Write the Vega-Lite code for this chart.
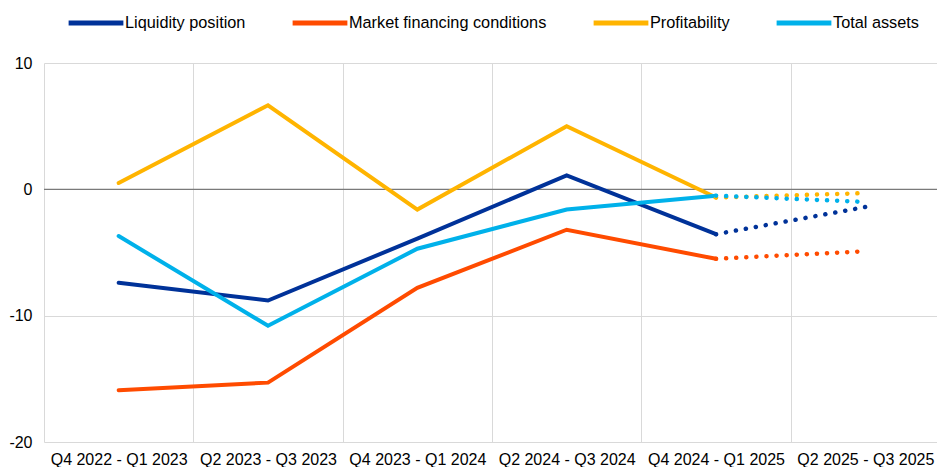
{
  "$schema": "https://vega.github.io/schema/vega-lite/v6.json",
  "autosize": {"type": "none"},
  "width": 896,
  "height": 379,
  "padding": {"left": 44, "top": 63, "right": -3, "bottom": 25},
  "background": "white",
  "config": {
    "view": {"stroke": null},
    "font": "Liberation Sans"
  },
  "data": {
    "values": [
      {"period": "Q4 2022 - Q1 2023", "series": "Liquidity position", "value": -7.4, "part": "actual"},
      {"period": "Q2 2023 - Q3 2023", "series": "Liquidity position", "value": -8.8, "part": "actual"},
      {"period": "Q4 2023 - Q1 2024", "series": "Liquidity position", "value": -3.9, "part": "actual"},
      {"period": "Q2 2024 - Q3 2024", "series": "Liquidity position", "value": 1.1, "part": "actual"},
      {"period": "Q4 2024 - Q1 2025", "series": "Liquidity position", "value": -3.55, "part": "actual"},
      {"period": "Q4 2024 - Q1 2025", "series": "Liquidity position", "value": -3.55, "part": "expected"},
      {"period": "Q2 2025 - Q3 2025", "series": "Liquidity position", "value": -1.4, "part": "expected"},

      {"period": "Q4 2022 - Q1 2023", "series": "Market financing conditions", "value": -15.9, "part": "actual"},
      {"period": "Q2 2023 - Q3 2023", "series": "Market financing conditions", "value": -15.3, "part": "actual"},
      {"period": "Q4 2023 - Q1 2024", "series": "Market financing conditions", "value": -7.8, "part": "actual"},
      {"period": "Q2 2024 - Q3 2024", "series": "Market financing conditions", "value": -3.2, "part": "actual"},
      {"period": "Q4 2024 - Q1 2025", "series": "Market financing conditions", "value": -5.5, "part": "actual"},
      {"period": "Q4 2024 - Q1 2025", "series": "Market financing conditions", "value": -5.5, "part": "expected"},
      {"period": "Q2 2025 - Q3 2025", "series": "Market financing conditions", "value": -4.9, "part": "expected"},

      {"period": "Q4 2022 - Q1 2023", "series": "Profitability", "value": 0.5, "part": "actual"},
      {"period": "Q2 2023 - Q3 2023", "series": "Profitability", "value": 6.65, "part": "actual"},
      {"period": "Q4 2023 - Q1 2024", "series": "Profitability", "value": -1.6, "part": "actual"},
      {"period": "Q2 2024 - Q3 2024", "series": "Profitability", "value": 5.0, "part": "actual"},
      {"period": "Q4 2024 - Q1 2025", "series": "Profitability", "value": -0.65, "part": "actual"},
      {"period": "Q4 2024 - Q1 2025", "series": "Profitability", "value": -0.65, "part": "expected"},
      {"period": "Q2 2025 - Q3 2025", "series": "Profitability", "value": -0.3, "part": "expected"},

      {"period": "Q4 2022 - Q1 2023", "series": "Total assets", "value": -3.7, "part": "actual"},
      {"period": "Q2 2023 - Q3 2023", "series": "Total assets", "value": -10.8, "part": "actual"},
      {"period": "Q4 2023 - Q1 2024", "series": "Total assets", "value": -4.7, "part": "actual"},
      {"period": "Q2 2024 - Q3 2024", "series": "Total assets", "value": -1.6, "part": "actual"},
      {"period": "Q4 2024 - Q1 2025", "series": "Total assets", "value": -0.5, "part": "actual"},
      {"period": "Q4 2024 - Q1 2025", "series": "Total assets", "value": -0.5, "part": "expected"},
      {"period": "Q2 2025 - Q3 2025", "series": "Total assets", "value": -1.0, "part": "expected"}
    ]
  },
  "encoding": {
    "x": {
      "field": "period",
      "type": "nominal",
      "sort": null,
      "scale": {"paddingInner": 0, "paddingOuter": 0},
      "axis": {
        "title": null,
        "labelAngle": 0,
        "labelFontSize": 16,
        "labelColor": "#000000",
        "labelPadding": 9,
        "ticks": false,
        "domain": false,
        "grid": true,
        "gridColor": "#d9d9d9",
        "gridWidth": 1,
        "tickBand": "extent"
      }
    },
    "y": {
      "field": "value",
      "type": "quantitative",
      "scale": {"domain": [-20, 10], "nice": false, "zero": false},
      "axis": {
        "title": null,
        "values": [-20, -10, 0, 10],
        "labelExpr": "replace(datum.label, '−', '-')",
        "labelFontSize": 16,
        "labelColor": "#000000",
        "labelPadding": 12,
        "ticks": false,
        "domain": false,
        "grid": true,
        "gridColor": "#d9d9d9",
        "gridWidth": 1
      }
    }
  },
  "layer": [
    {
      "mark": {"type": "rule", "color": "#7a7a7a", "strokeWidth": 1.2},
      "data": {"values": [{"zero": 0}]},
      "encoding": {
        "x": null,
        "y": {"field": "zero", "type": "quantitative"}
      }
    },
    {
      "transform": [{"filter": "datum.part === 'actual'"}],
      "mark": {"type": "line", "strokeWidth": 4, "strokeCap": "round", "strokeJoin": "miter"},
      "encoding": {
        "color": {
          "field": "series",
          "type": "nominal",
          "scale": {
            "domain": ["Liquidity position", "Market financing conditions", "Profitability", "Total assets"],
            "range": ["#003299", "#FF4B00", "#FFB400", "#00B1EA"]
          },
          "legend": {
            "title": null,
            "orient": "none",
            "legendX": 22,
            "legendY": -70,
            "direction": "horizontal",
            "symbolType": "stroke",
            "symbolSize": 3000,
            "symbolStrokeWidth": 5,
            "labelFontSize": 16.3,
            "labelColor": "#000000",
            "labelOffset": -1,
            "labelLimit": 400,
            "columnPadding": 36
          }
        }
      }
    },
    {
      "transform": [{"filter": "datum.part === 'expected'"}],
      "mark": {"type": "line", "strokeWidth": 4.5, "strokeCap": "round", "strokeDash": [0.1, 10]},
      "encoding": {
        "color": {"field": "series", "type": "nominal", "legend": null}
      }
    }
  ]
}
